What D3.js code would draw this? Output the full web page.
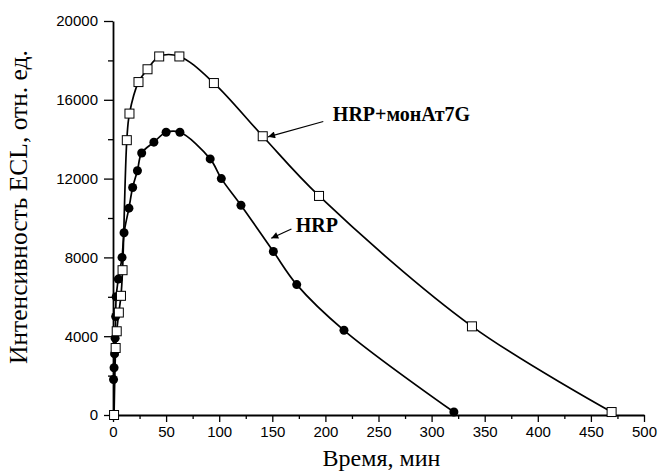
<!DOCTYPE html>
<html>
<head>
<meta charset="utf-8">
<script src="https://cdn.jsdelivr.net/npm/d3@7"></script>
<style>
  body { margin: 0; background: #fff; }
  svg { display: block; }
</style>
</head>
<body>
<script>
// data: time (min) and ECL intensity
var hrpTime = [0.5, 1, 1.5, 2, 2.5, 3, 5, 8.5, 10.4, 15, 18.5, 23, 27, 38.5, 50, 63, 91.5, 102, 120.5, 151, 173, 217.5, 321];
var hrpValue = [1800, 2400, 3100, 3900, 5000, 6000, 6900, 8000, 9250, 10500, 11550, 12400, 13300, 13850, 14350, 14350, 13000, 12000, 10650, 8300, 6620, 4300, 150];

var monTime = [1, 2.5, 3.5, 5.5, 7.5, 9, 13, 15.5, 24, 32.5, 43.5, 62.5, 95, 141, 194, 338, 469.5];
var monValue = [0, 3400, 4250, 5200, 6050, 7350, 13950, 15300, 16900, 17550, 18200, 18200, 16850, 14150, 11120, 4500, 150];

var xTicks = [0, 50, 100, 150, 200, 250, 300, 350, 400, 450, 500];
var yTicks = [0, 4000, 8000, 12000, 16000, 20000];

var width = 660, height = 472;
var margin = {top: 21, right: 16, bottom: 57, left: 113};

var svg = d3.select("body").append("svg")
    .attr("width", width)
    .attr("height", height);

var x = d3.scaleLinear().domain([0, 500]).range([margin.left, width - margin.right]);
var y = d3.scaleLinear().domain([0, 20000]).range([height - margin.bottom, margin.top]);

var hrp = hrpTime.map(function (t, i) { return [t, hrpValue[i]]; });
var mon = monTime.map(function (t, i) { return [t, monValue[i]]; });

// axes: major ticks with labels, minor ticks between
function styleAxis(g) {
  g.select(".domain").attr("stroke-width", 1.8);
  g.selectAll(".tick line").attr("stroke-width", 1.3);
  g.selectAll(".tick text")
    .attr("font-family", "Liberation Sans, Arial, sans-serif")
    .attr("font-size", 15)
    .attr("fill", "#000");
}

svg.append("g")
    .attr("transform", "translate(0," + (height - margin.bottom) + ")")
    .call(d3.axisBottom(x).tickValues(d3.range(25, 500, 50)).tickSize(4).tickFormat("").tickSizeOuter(0))
    .call(function (g) { g.select(".domain").remove(); g.selectAll(".tick line").attr("stroke-width", 1.3); });

svg.append("g")
    .attr("transform", "translate(0," + (height - margin.bottom) + ")")
    .call(d3.axisBottom(x).tickValues(xTicks).tickSize(7).tickPadding(4).tickSizeOuter(0))
    .call(styleAxis);

svg.append("g")
    .attr("transform", "translate(" + margin.left + ",0)")
    .call(d3.axisLeft(y).tickValues(d3.range(2000, 20000, 4000)).tickSize(5).tickFormat("").tickSizeOuter(0))
    .call(function (g) { g.select(".domain").remove(); g.selectAll(".tick line").attr("stroke-width", 1.3); });

svg.append("g")
    .attr("transform", "translate(" + margin.left + ",0)")
    .call(d3.axisLeft(y).tickValues(yTicks).tickSize(9).tickPadding(6).tickSizeOuter(0).tickFormat(d3.format("d")))
    .call(styleAxis);

// axis titles
svg.append("text")
    .attr("x", (margin.left + width - margin.right) / 2 + 3)
    .attr("y", 466)
    .attr("text-anchor", "middle")
    .attr("font-family", "Liberation Serif, Times New Roman, serif")
    .attr("font-size", 24)
    .text("Время, мин");

svg.append("text")
    .attr("transform", "translate(27,207) rotate(-90)")
    .attr("text-anchor", "middle")
    .attr("font-family", "Liberation Serif, Times New Roman, serif")
    .attr("font-size", 25.5)
    .text("Интенсивность ECL, отн. ед.");

// curves
var line = d3.line()
    .x(function (d) { return x(d[0]); })
    .y(function (d) { return y(d[1]); })
    .curve(d3.curveCatmullRom.alpha(0.5));

svg.append("path").datum(hrp)
    .attr("d", line).attr("fill", "none").attr("stroke", "#000").attr("stroke-width", 1.7);
svg.append("path").datum(mon)
    .attr("d", line).attr("fill", "none").attr("stroke", "#000").attr("stroke-width", 1.7);

// markers
svg.selectAll("circle.hrp").data(hrp).enter().append("circle")
    .attr("class", "hrp")
    .attr("cx", function (d) { return x(d[0]); })
    .attr("cy", function (d) { return y(d[1]); })
    .attr("r", 4.5)
    .attr("fill", "#000");

svg.selectAll("rect.mon").data(mon).enter().append("rect")
    .attr("class", "mon")
    .attr("x", function (d) { return x(d[0]) - 4.5; })
    .attr("y", function (d) { return y(d[1]) - 4.5; })
    .attr("width", 9)
    .attr("height", 9)
    .attr("fill", "#fff")
    .attr("stroke", "#000")
    .attr("stroke-width", 1);

// annotations with arrows
svg.append("defs").append("marker")
    .attr("id", "arrow")
    .attr("viewBox", "0 0 10 10")
    .attr("refX", 10).attr("refY", 5)
    .attr("markerWidth", 9).attr("markerHeight", 7)
    .attr("markerUnits", "userSpaceOnUse")
    .attr("orient", "auto")
    .append("path").attr("d", "M0,0L10,5L0,10z").attr("fill", "#000");

function note(label, tx, ty, ax0, ay0, ax1, ay1) {
  svg.append("line")
      .attr("x1", x(ax0)).attr("y1", y(ay0))
      .attr("x2", x(ax1)).attr("y2", y(ay1))
      .attr("stroke", "#000").attr("stroke-width", 1.2)
      .attr("marker-end", "url(#arrow)");
  svg.append("text")
      .attr("x", x(tx)).attr("y", y(ty))
      .attr("font-family", "Liberation Serif, Times New Roman, serif")
      .attr("font-weight", "bold")
      .attr("font-size", 20)
      .text(label);
}

note("HRP+монАт7G", 207, 14900, 198, 14900, 146, 14120);
note("HRP", 172, 9300, 168, 9440, 149, 8970);
</script>
</body>
</html>
